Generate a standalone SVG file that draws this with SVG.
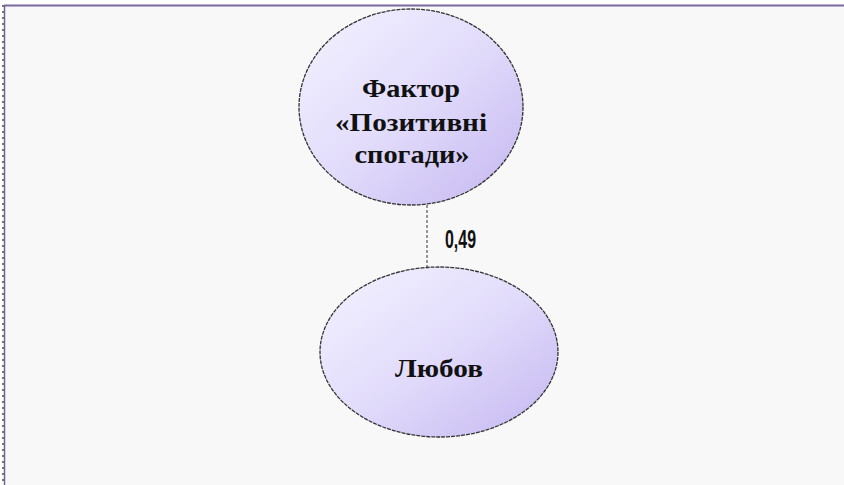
<svg xmlns="http://www.w3.org/2000/svg" width="844" height="485" viewBox="0 0 844 485">
  <defs>
    <linearGradient id="nodeFill" x1="0" y1="0" x2="1" y2="1">
      <stop offset="0" stop-color="#f4f2ff"/>
      <stop offset="0.5" stop-color="#e2dcfb"/>
      <stop offset="1" stop-color="#c4b6f0"/>
    </linearGradient>
  </defs>
  <style>
    .node ellipse { fill: url(#nodeFill); stroke: #333; stroke-width: 1.3; stroke-dasharray: 4 1; }
    .node text { font-family: "Liberation Serif", "Times New Roman", serif; font-weight: bold; font-size: 26px; fill: #111; text-anchor: middle; }
    .conn line { stroke: #333; stroke-width: 1; stroke-dasharray: 3 2; }
    .conn text { font-family: "Liberation Sans", Arial, sans-serif; font-weight: bold; font-size: 25px; fill: #111; }
  </style>
  <rect x="0" y="0" width="844" height="485" fill="#ffffff"/>
  <rect x="4" y="5" width="845" height="490" fill="#f8f8f8"/>
  <line x1="4" y1="5.5" x2="844" y2="5.5" stroke="#7a6a9e" stroke-width="2"/>
  <line x1="4.5" y1="5" x2="4.5" y2="485" stroke="#6f6595" stroke-width="1.5"/>
  <line x1="3" y1="5" x2="3" y2="485" stroke="#777" stroke-width="2" stroke-dasharray="2 4"/>
  <g id="connectors" class="conn">
    <line x1="427" y1="205" x2="427" y2="268"/>
    <text x="445" y="248" textLength="31" lengthAdjust="spacingAndGlyphs">0,49</text>
  </g>
  <g id="node-factor" class="node">
    <ellipse cx="411" cy="107" rx="112" ry="98"/>
    <text x="411" y="97" textLength="98" lengthAdjust="spacingAndGlyphs">Фактор</text>
    <text x="411" y="131" textLength="152" lengthAdjust="spacingAndGlyphs">«Позитивні</text>
    <text x="412" y="163" textLength="115" lengthAdjust="spacingAndGlyphs">спогади»</text>
  </g>
  <g id="node-love" class="node">
    <ellipse cx="439" cy="352" rx="119" ry="85"/>
    <text x="439" y="377" textLength="88" lengthAdjust="spacingAndGlyphs">Любов</text>
  </g>
</svg>
